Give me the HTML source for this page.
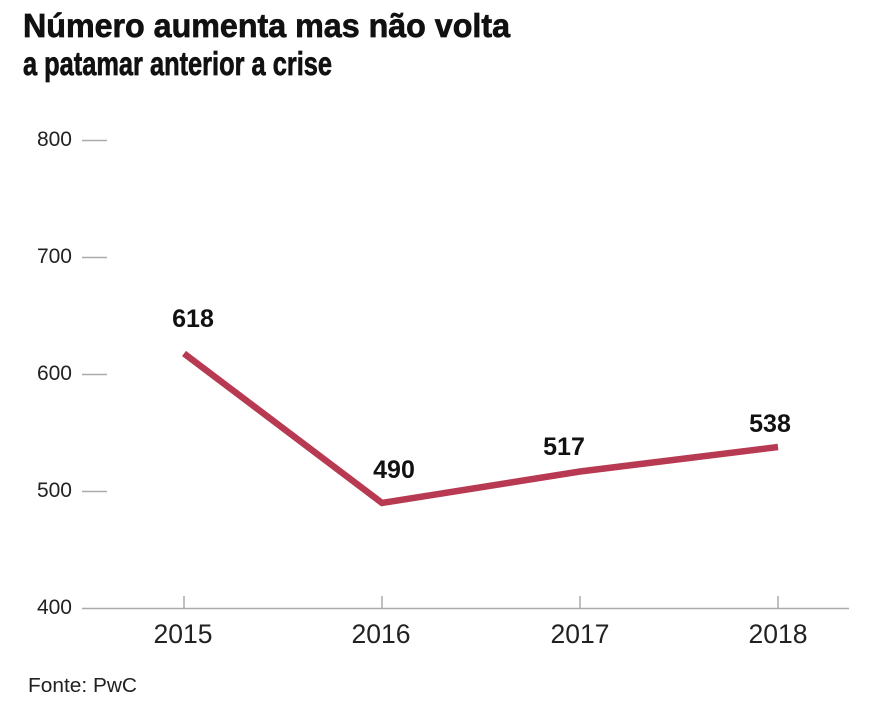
<!DOCTYPE html>
<html><head><meta charset="utf-8"><style>
html,body{margin:0;padding:0;background:#fff;}
svg{display:block;}
</style></head><body>
<svg width="885" height="703" viewBox="0 0 885 703" xmlns="http://www.w3.org/2000/svg">
<rect width="885" height="703" fill="#fff"/>
<g font-family="'Liberation Sans', sans-serif" font-weight="bold" fill="#111" stroke="#111" stroke-width="0.7" font-size="33">
<text x="23" y="37" textLength="487" lengthAdjust="spacingAndGlyphs">Número aumenta mas não volta</text>
<text x="23" y="75" textLength="309" lengthAdjust="spacingAndGlyphs">a patamar anterior a crise</text>
</g>
<g stroke="#aaa" stroke-width="1.5">
<line x1="82" y1="140.5" x2="107" y2="140.5"/>
<line x1="82" y1="257.5" x2="107" y2="257.5"/>
<line x1="82" y1="374.5" x2="107" y2="374.5"/>
<line x1="82" y1="491.5" x2="107" y2="491.5"/>
<line x1="82" y1="608.5" x2="849" y2="608.5"/>
<line x1="184" y1="596" x2="184" y2="608"/>
<line x1="382" y1="596" x2="382" y2="608"/>
<line x1="580" y1="596" x2="580" y2="608"/>
<line x1="778" y1="596" x2="778" y2="608"/>
</g>
<g font-family="'Liberation Sans', sans-serif" fill="#222" font-size="21" text-anchor="end">
<text x="72" y="146">800</text>
<text x="72" y="263">700</text>
<text x="72" y="380">600</text>
<text x="72" y="497">500</text>
<text x="72" y="614">400</text>
</g>
<g font-family="'Liberation Sans', sans-serif" fill="#222" font-size="27" text-anchor="middle">
<text x="183" y="643" textLength="59" lengthAdjust="spacingAndGlyphs">2015</text>
<text x="381" y="643" textLength="59" lengthAdjust="spacingAndGlyphs">2016</text>
<text x="580" y="643" textLength="59" lengthAdjust="spacingAndGlyphs">2017</text>
<text x="778" y="643" textLength="59" lengthAdjust="spacingAndGlyphs">2018</text>
</g>
<polyline points="184,353.5 382,503 580,471.5 778,447" fill="none" stroke="#b83a52" stroke-width="6.5" stroke-linejoin="miter" stroke-linecap="butt"/>
<g font-family="'Liberation Sans', sans-serif" font-weight="bold" fill="#111" font-size="25" text-anchor="middle">
<text x="193" y="327">618</text>
<text x="394" y="478">490</text>
<text x="564" y="455">517</text>
<text x="770" y="432">538</text>
</g>
<text x="28" y="692" font-family="'Liberation Sans', sans-serif" font-size="20" fill="#222" textLength="109" lengthAdjust="spacingAndGlyphs">Fonte: PwC</text>
</svg>
</body></html>
